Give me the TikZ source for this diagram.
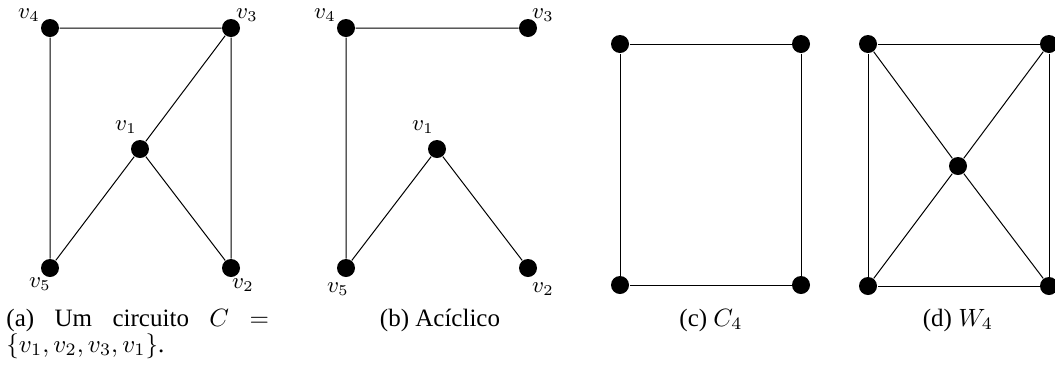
\documentclass[tikz,border=0pt]{standalone}
\usepackage[no-math]{fontspec}
\setmainfont{Liberation Serif}
\begin{document}
\begin{tikzpicture}[x=0.4pt,y=-0.4pt,
  vtx/.style={circle,fill=black,inner sep=0pt,minimum size=7.2pt},
  lbl/.style={inner sep=0pt,font=\small},
  captxt/.style={inner sep=0pt,anchor=base,font=\fontsize{10pt}{11pt}\selectfont},
  ln/.style={line width=0.4pt}]
\useasboundingbox (0,0) rectangle (1055,368);
\clip (0,0) rectangle (1055,368);
% (a)
\node[vtx] (a4) at (50,28) {};
\node[vtx] (a3) at (231,28) {};
\node[vtx] (a1) at (140,149) {};
\node[vtx] (a5) at (50,268) {};
\node[vtx] (a2) at (231,268) {};
\draw[ln] (a4) -- (a3) (a4) -- (a5) (a3) -- (a2) (a3) -- (a1) (a1) -- (a5) (a1) -- (a2);
\node[lbl] (la4) at (29,15) {$v_4$};
\node[lbl] (la3) at (247,15) {$v_3$};
\node[lbl] (la1) at (126,127) {$v_1$};
\node[lbl] (la5) at (40,284) {$v_5$};
\node[lbl] (la2) at (243,285) {$v_2$};
% (b)
\node[vtx] (b4) at (346,28) {};
\node[vtx] (b3) at (528,28) {};
\node[vtx] (b1) at (437,149) {};
\node[vtx] (b5) at (346,268) {};
\node[vtx] (b2) at (528,268) {};
\draw[ln] (b4) -- (b3) (b4) -- (b5) (b5) -- (b1) (b1) -- (b2);
\node[lbl] (lb4) at (325,15) {$v_4$};
\node[lbl] (lb3) at (543,15) {$v_3$};
\node[lbl] (lb1) at (423,127) {$v_1$};
\node[lbl] (lb5) at (338,289) {$v_5$};
\node[lbl] (lb2) at (543,289) {$v_2$};
% (c)
\node[vtx] (c1) at (620,44) {};
\node[vtx] (c2) at (801,44) {};
\node[vtx] (c3) at (801,285) {};
\node[vtx] (c4) at (620,285) {};
\draw[ln] (c1) -- (c2) -- (c3) -- (c4) -- (c1);
% (d)
\node[vtx] (d1) at (868,44) {};
\node[vtx] (d2) at (1049,44) {};
\node[vtx] (d3) at (1049,286) {};
\node[vtx] (d4) at (868,286) {};
\node[vtx] (d0) at (958,166) {};
\draw[ln] (d1) -- (d2) -- (d3) -- (d4) -- (d1);
\draw[ln] (d1) -- (d0) -- (d3) (d2) -- (d0) -- (d4);
% captions
\node[captxt,anchor=base west] (capa1) at (6,326) {\hbox to 105pt{(a)\hfill Um\hfill circuito\hfill $C$\hfill $=$}};
\node[captxt,anchor=base west] (capa2) at (6,352) {$\{v_1,v_2,v_3,v_1\}$.};
\node[captxt] (capb) at (440,326) {(b) Acíclico};
\node[captxt] (capc) at (711,326) {(c) $C_4$};
\node[captxt] (capd) at (958,326) {(d) $W_4$};
\end{tikzpicture}
\end{document}
